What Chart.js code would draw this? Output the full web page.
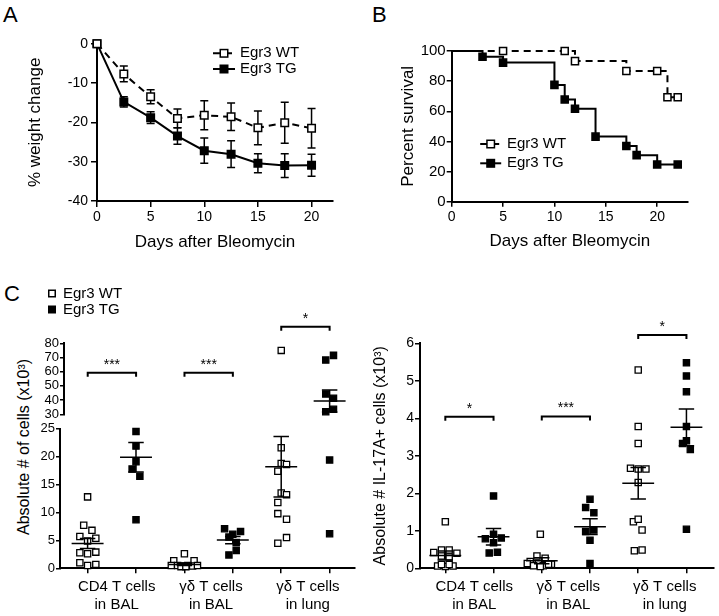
<!DOCTYPE html>
<html>
<head>
<meta charset="utf-8">
<script src="https://cdn.jsdelivr.net/npm/chart.js@4.4.1/dist/chart.umd.min.js"></script>
<style>
  body { margin: 0; background: #fff; width: 719px; height: 616px; position: relative; overflow: hidden;
         font-family: 'Liberation Sans', Arial, sans-serif; color: #000; }
  canvas { position: absolute; }
  .panel { position: absolute; font-size: 22px; }
  .ytitle { position: absolute; font-size: 16px; white-space: nowrap; transform: translate(-50%, -50%) rotate(-90deg); }
</style>
</head>
<body>
<div class="panel" style="left:3px;top:2px">A</div>
<div class="panel" style="left:372px;top:2px">B</div>
<div class="panel" style="left:4px;top:281px">C</div>
<div class="ytitle" style="left:24px;top:447px">Absolute # of cells (x10³)</div>

<canvas id="chartA" width="355" height="260" style="left:0;top:0"></canvas>
<canvas id="chartB" width="359" height="260" style="left:360px;top:0"></canvas>
<canvas id="chartCup" width="360" height="145" style="left:0;top:280px"></canvas>
<canvas id="chartClo" width="360" height="196" style="left:0;top:420px"></canvas>
<canvas id="chartCr" width="359" height="316" style="left:360px;top:300px"></canvas>

<script>
const FONT = "'Liberation Sans', Arial, sans-serif";

// ---- A: weight change ----
const daysA = [0, 2.5, 5, 7.5, 10, 12.5, 15, 17.5, 20];
const wtWeight = [0, -7.7, -13.5, -19, -18.2, -18.6, -21.4, -20.1, -21.5];
const wtWeightSem = [0, 2, 1.8, 2.4, 3.7, 3.5, 4.3, 5.2, 5];
const tgWeight = [0, -14.8, -18.8, -23.5, -27.2, -28.1, -30.4, -31, -30.9];
const tgWeightSem = [0, 1.3, 1.5, 2.1, 3.2, 3.4, 2.4, 3, 2.8];
const xTicksA = [0, 5, 10, 15, 20];
const yTicksA = [-40, -30, -20, -10, 0];

// ---- B: survival ----
const survDaysWt = [0, 5, 11, 12, 17, 20, 21, 22];
const survWt = [100, 100, 100, 93.3, 86.7, 86.7, 69.3, 69.3];
const survDaysTg = [0, 3, 5, 10, 11, 12, 14, 17, 18, 20, 22];
const survTg = [100, 96.2, 92.3, 77.5, 67.8, 61.7, 43.2, 37, 30.9, 24.7, 24.7];
const xTicksB = [0, 5, 10, 15, 20];
const yTicksB = [0, 20, 40, 60, 80, 100];

const groupNames = ['Egr3 WT', 'Egr3 TG'];

// ---- C: cell counts (x10^3); jitter = horizontal spread within a group ----
const catPos = [1, 2, 3, 4, 5, 6];
const labelPosC = [1.6, 3.55, 5.55];
const catLabels = [['CD4 T cells', 'in BAL'], ['γδ T cells', 'in BAL'], ['γδ T cells', 'in lung']];

const cellsCd4Wt = [12.8, 7.7, 6.8, 5.7, 5.4, 4.9, 2.8, 2.6, 2.9, 1.0, 0.5, 0.7];
const jitCd4Wt = [0, -0.08, 0.09, -0.16, 0.17, 0, -0.16, 0, 0.17, -0.16, 0, 0.17];
const cellsCd4Tg = [24.5, 21.9, 19.1, 17.8, 16.5, 8.7];
const jitCd4Tg = [0, 0, 0, -0.08, 0.08, 0];
const cellsGdBalWt = [2.6, 1.35, 1.35, 0.5, 0.5, 0.4, 0.5, 0.4, 0.5, 0.3, 0.3];
const jitGdBalWt = [0, -0.22, 0.2, -0.27, -0.14, -0.03, 0.07, 0.17, 0.27, -0.07, 0.03];
const cellsGdBalTg = [7.1, 6.6, 6.1, 5.6, 4.6, 3.2, 2.4];
const jitGdBalTg = [-0.17, 0.16, 0, -0.08, 0.07, 0.07, -0.08];
const cellsGdLungWt = [75, 21.6, 18.8, 18.6, 17.4, 13.5, 13.2, 11.8, 9.8, 8.8, 5.5, 4.5];
const jitGdLungWt = [0, 0, 0, 0.11, -0.07, 0, 0.11, -0.07, -0.07, 0.11, 0.11, -0.07];
const cellsGdLungTg = [71.5, 68.2, 44.3, 41.3, 33.5, 31.8, 19.4, 6.2];
const jitGdLungTg = [0.08, -0.08, -0.08, 0.08, 0.08, -0.08, 0, 0];
const cellsMean = [4.45, 19.9, 0.7, 5.05, 18.2, 39.4];
const cellsSem = [0.9, 2.65, 0.2, 0.65, 5.4, 7.75];
const cellsBreak = 27;
const yTicksCup = [30, 40, 50, 60, 70, 80];
const yTicksClo = [0, 5, 10, 15, 20, 25];

const il17Cd4Wt = [1.24, 0.49, 0.49, 0.42, 0.40, 0.33, 0.30, 0.06, 0.05, 0.06, 0.10, 0.10];
const jitIl17Cd4Wt = [0, -0.08, 0.08, -0.24, 0.24, -0.08, 0.08, -0.16, 0, 0.16, -0.08, 0.08];
const il17Cd4Tg = [1.93, 0.91, 0.79, 0.81, 0.68, 0.41, 0.43];
const jitIl17Cd4Tg = [0, 0, -0.17, 0.16, 0, -0.09, 0.08];
const il17GdBalWt = [0.91, 0.33, 0.27, 0.18, 0.13, 0.11, 0.13, 0.07, 0.07, 0.11, 0.05];
const jitIl17GdBalWt = [-0.03, -0.1, 0.07, -0.24, -0.07, 0.2, -0.3, -0.17, 0.03, 0.14, -0.03];
const il17GdBalTg = [1.84, 1.62, 1.48, 0.98, 1.02, 0.75, 0.13];
const jitIl17GdBalTg = [0, -0.09, 0.08, -0.09, 0.08, 0, 0];
const il17GdLungWt = [5.29, 3.78, 3.33, 2.67, 2.65, 2.65, 2.29, 1.24, 1.31, 1.02, 0.47, 0.49];
const jitIl17GdLungWt = [0, 0, 0, -0.16, 0, 0.16, 0, -0.1, 0, 0.08, -0.08, 0.08];
const il17GdLungTg = [5.48, 5.13, 4.71, 3.78, 3.40, 3.33, 3.17, 1.04];
const jitIl17GdLungTg = [0, 0, 0, 0, 0, -0.08, 0.08, 0];
const il17Mean = [0.34, 0.84, 0.2, 1.11, 2.27, 3.76];
const il17Sem = [0.12, 0.22, 0.08, 0.21, 0.42, 0.49];
const yTicksCr = [0, 1, 2, 3, 4, 5, 6];

// significance brackets
const sigFrom = [1, 3, 5];
const sigTo = [2, 4, 6];
const sigCellsY = [59.3, 59.3, 91.7];
const sigCellsLabel = ['***', '***', '*'];
const sigIl17Y = [4.04, 4.05, 6.22];
const sigIl17Label = ['*', '***', '*'];

// ---------- plugins ----------
const errorBars = {
  id: 'errorBars',
  beforeDatasetsDraw(chart, args, o) {
    if (!o.sets) return;
    const { ctx, scales: { x, y } } = chart;
    ctx.save();
    ctx.strokeStyle = '#000';
    ctx.lineWidth = 1.5;
    o.sets.forEach(s => {
      s.x.forEach((xv, i) => {
        if (!s.err[i]) return;
        const px = x.getPixelForValue(xv);
        const t = y.getPixelForValue(s.y[i] + s.err[i]);
        const b = y.getPixelForValue(s.y[i] - s.err[i]);
        ctx.beginPath();
        ctx.moveTo(px, t); ctx.lineTo(px, b);
        ctx.moveTo(px - o.cap, t); ctx.lineTo(px + o.cap, t);
        ctx.moveTo(px - o.cap, b); ctx.lineTo(px + o.cap, b);
        ctx.stroke();
      });
    });
    ctx.restore();
  }
};

const meanSem = {
  id: 'meanSem',
  afterDatasetsDraw(chart, args, o) {
    if (!o.means) return;
    const { ctx, scales: { x, y } } = chart;
    ctx.save();
    ctx.strokeStyle = '#000';
    ctx.lineWidth = 1.5;
    o.means.forEach((m, i) => {
      if (m < y.min || m > y.max) return;
      const pos = catPos[i];
      const px = x.getPixelForValue(pos);
      const half = x.getPixelForValue(pos + o.meanHalf) - px;
      const cap = x.getPixelForValue(pos + o.capHalf) - px;
      const pm = y.getPixelForValue(m);
      const t = y.getPixelForValue(m + o.sems[i]);
      const b = y.getPixelForValue(m - o.sems[i]);
      ctx.beginPath();
      ctx.moveTo(px - half, pm); ctx.lineTo(px + half, pm);
      ctx.moveTo(px, t); ctx.lineTo(px, b);
      ctx.moveTo(px - cap, t); ctx.lineTo(px + cap, t);
      ctx.moveTo(px - cap, b); ctx.lineTo(px + cap, b);
      ctx.stroke();
    });
    ctx.restore();
  }
};

const sigBrackets = {
  id: 'sig',
  afterDraw(chart, args, o) {
    if (!o.y) return;
    const { ctx, scales: { x, y } } = chart;
    ctx.save();
    ctx.strokeStyle = '#000';
    ctx.fillStyle = '#000';
    ctx.lineWidth = 2;
    ctx.font = o.size + 'px ' + FONT;
    ctx.textAlign = 'center';
    ctx.textBaseline = 'bottom';
    sigFrom.forEach((f, i) => {
      const x1 = x.getPixelForValue(f), x2 = x.getPixelForValue(sigTo[i]);
      const py = y.getPixelForValue(o.y[i]);
      ctx.beginPath();
      ctx.moveTo(x1, py + o.drop); ctx.lineTo(x1, py); ctx.lineTo(x2, py); ctx.lineTo(x2, py + o.drop);
      ctx.stroke();
      ctx.fillText(o.labels[i], (x1 + x2) / 2, py - 1);
    });
    ctx.restore();
  }
};

const keyBox = {
  id: 'keyBox',
  afterDraw(chart, args, o) {
    if (!o.x) return;
    const ctx = chart.ctx;
    ctx.save();
    ctx.font = o.size + 'px ' + FONT;
    ctx.textBaseline = 'middle';
    ctx.strokeStyle = '#000';
    chart.data.datasets.slice(0, 2).forEach((ds, i) => {
      const y = o.y + i * o.step;
      if (o.lineHalf) {
        ctx.lineWidth = 2;
        ctx.setLineDash(ds.borderDash || []);
        ctx.beginPath(); ctx.moveTo(o.x - o.lineHalf, y); ctx.lineTo(o.x + o.lineHalf, y); ctx.stroke();
        ctx.setLineDash([]);
      }
      ctx.lineWidth = 1.5;
      ctx.fillStyle = ds.pointBackgroundColor;
      ctx.fillRect(o.x - o.box / 2, y - o.box / 2, o.box, o.box);
      ctx.strokeRect(o.x - o.box / 2, y - o.box / 2, o.box, o.box);
      ctx.fillStyle = '#000';
      ctx.fillText(groupNames[i], o.textX, y);
    });
    ctx.restore();
  }
};

Chart.register(errorBars, meanSem, sigBrackets, keyBox);
Chart.defaults.font.family = FONT;
Chart.defaults.color = '#000';
Chart.defaults.animation = false;
Chart.defaults.responsive = false;
Chart.defaults.plugins.legend.display = false;
Chart.defaults.plugins.tooltip.enabled = false;

function axis(o) {
  const a = {
    type: 'linear',
    min: o.min, max: o.max,
    display: true,
    border: { display: true, color: '#000', width: 2 },
    grid: { display: true, drawOnChartArea: false, drawTicks: true, tickLength: o.tick || 5,
            color: o.gridColor || '#000', lineWidth: 1.5 },
    ticks: { color: '#000', font: { size: o.fontSize || 14 }, padding: o.pad, autoSkip: false, maxRotation: 0 },
    afterBuildTicks: s => { s.ticks = o.ticks.map(v => ({ value: v })); },
    afterFit: s => { if (o.w) s.width = o.w; if (o.h) s.height = o.h; },
    title: o.title ? { display: true, text: o.title, color: '#000', font: { size: o.titleSize || 17 }, padding: o.titlePad }
                   : { display: false }
  };
  if (o.callback) a.ticks.callback = o.callback;
  return a;
}

function lineSet(label, xs, ys, filled, dash, radius) {
  return {
    label,
    data: xs.map((d, i) => ({ x: d, y: ys[i] })),
    borderColor: '#000', borderWidth: 2, borderDash: dash,
    pointStyle: 'rect', pointRadius: radius, pointBorderWidth: 1.5,
    pointBackgroundColor: filled ? '#000' : '#fff', pointBorderColor: '#000',
    clip: false
  };
}

function groupPts(vals, jit, pos) {
  return vals.map((v, i) => ({ x: pos + jit[i], y: v }));
}

function dotSet(label, pts, filled) {
  return {
    label, data: pts, showLine: false,
    pointStyle: 'rect', pointRadius: 4.4, pointBorderWidth: 1.3,
    pointBackgroundColor: filled ? '#000' : '#fff', pointBorderColor: '#000',
    clip: false
  };
}

// ---------- A ----------
new Chart(document.getElementById('chartA'), {
  type: 'line',
  data: {
    datasets: [
      lineSet(groupNames[0], daysA, wtWeight, false, [7, 5], 5.3),
      lineSet(groupNames[1], daysA, tgWeight, true, [], 5.3)
    ]
  },
  options: {
    layout: { padding: { top: 43.7, right: 22, left: 0, bottom: 0 } },
    scales: {
      x: axis({ min: 0, max: 22, ticks: xTicksA, h: 59, pad: 2, tick: 6,
                title: 'Days after Bleomycin', titlePad: { bottom: 7 } }),
      y: axis({ min: -40, max: 0, ticks: yTicksA, w: 97, pad: 3, tick: 6,
                title: '% weight change', titlePad: { top: 25.5 } })
    },
    plugins: {
      errorBars: { cap: 4, sets: [
        { x: daysA, y: wtWeight, err: wtWeightSem },
        { x: daysA, y: tgWeight, err: tgWeightSem }
      ] },
      keyBox: { x: 224, y: 53.3, step: 15.7, lineHalf: 11, box: 7.5, textX: 240, size: 15 }
    }
  }
});

// ---------- B ----------
const survWtSet = lineSet(groupNames[0], survDaysWt, survWt, false, [7, 5], 5);
const survTgSet = lineSet(groupNames[1], survDaysTg, survTg, true, [], 5);
[survWtSet, survTgSet].forEach(s => {
  s.stepped = true;
  s.pointRadius = c => (c.dataIndex === 0 ? 0 : 5);
});
new Chart(document.getElementById('chartB'), {
  type: 'line',
  data: { datasets: [survWtSet, survTgSet] },
  options: {
    layout: { padding: { top: 51, right: 31, left: 0, bottom: 0 } },
    scales: {
      x: axis({ min: 0, max: 23, ticks: xTicksB, h: 58.3, pad: 2,
                title: 'Days after Bleomycin', titlePad: { bottom: 8 } }),
      y: axis({ min: 0, max: 100, ticks: yTicksB, w: 91.7, pad: 1, fontSize: 15,
                title: 'Percent survival', titlePad: { top: 38 } })
    },
    plugins: {
      keyBox: { x: 130.7, y: 144, step: 19.3, lineHalf: 10.5, box: 7.5, textX: 147, size: 15 }
    }
  }
});

// ---------- C left (broken axis: upper + lower) ----------
const cellsWtPts = [
  ...groupPts(cellsCd4Wt, jitCd4Wt, catPos[0]),
  ...groupPts(cellsGdBalWt, jitGdBalWt, catPos[2]),
  ...groupPts(cellsGdLungWt, jitGdLungWt, catPos[4])
];
const cellsTgPts = [
  ...groupPts(cellsCd4Tg, jitCd4Tg, catPos[1]),
  ...groupPts(cellsGdBalTg, jitGdBalTg, catPos[3]),
  ...groupPts(cellsGdLungTg, jitGdLungTg, catPos[5])
];

function catAxis(min, max, h) {
  const ticks = catPos.concat(labelPosC).sort((a, b) => a - b);
  return axis({
    min, max, ticks, h, pad: 4.4, fontSize: 15,
    gridColor: c => (c.tick && labelPosC.includes(c.tick.value) ? 'rgba(0,0,0,0)' : '#000'),
    callback: v => { const k = labelPosC.indexOf(v); return k >= 0 ? catLabels[k] : ''; }
  });
}

new Chart(document.getElementById('chartCup'), {
  type: 'scatter',
  data: {
    datasets: [
      dotSet(groupNames[0], cellsWtPts.filter(p => p.y > cellsBreak), false),
      dotSet(groupNames[1], cellsTgPts.filter(p => p.y > cellsBreak), true)
    ]
  },
  options: {
    layout: { padding: { top: 63.3, right: 2, left: 0, bottom: 10.7 } },
    scales: {
      x: { type: 'linear', min: 0.51, max: 6.51, display: false },
      y: axis({ min: 30, max: 80, ticks: yTicksCup, w: 64, pad: 1, tick: 4, fontSize: 13 })
    },
    plugins: {
      meanSem: { means: cellsMean, sems: cellsSem, meanHalf: 0.33, capHalf: 0.16 },
      sig: { y: sigCellsY, labels: sigCellsLabel, size: 14, drop: 4 },
      keyBox: { x: 52, y: 13.5, step: 16, box: 6.5, textX: 63, size: 15 }
    }
  }
});

new Chart(document.getElementById('chartClo'), {
  type: 'scatter',
  data: {
    datasets: [
      dotSet(groupNames[0], cellsWtPts.filter(p => p.y <= cellsBreak), false),
      dotSet(groupNames[1], cellsTgPts.filter(p => p.y <= cellsBreak), true)
    ]
  },
  options: {
    layout: { padding: { top: 6.5, right: 2, left: 0, bottom: 0 } },
    scales: {
      x: catAxis(0.43, 6.51, 47.7),
      y: axis({ min: 0, max: 25, ticks: yTicksClo, w: 60, pad: 1, tick: 4, fontSize: 13 })
    },
    plugins: {
      meanSem: { means: cellsMean, sems: cellsSem, meanHalf: 0.33, capHalf: 0.16 }
    }
  }
});

// ---------- C right ----------
const il17WtPts = [
  ...groupPts(il17Cd4Wt, jitIl17Cd4Wt, catPos[0]),
  ...groupPts(il17GdBalWt, jitIl17GdBalWt, catPos[2]),
  ...groupPts(il17GdLungWt, jitIl17GdLungWt, catPos[4])
];
const il17TgPts = [
  ...groupPts(il17Cd4Tg, jitIl17Cd4Tg, catPos[1]),
  ...groupPts(il17GdBalTg, jitIl17GdBalTg, catPos[3]),
  ...groupPts(il17GdLungTg, jitIl17GdLungTg, catPos[5])
];

new Chart(document.getElementById('chartCr'), {
  type: 'scatter',
  data: {
    datasets: [
      dotSet(groupNames[0], il17WtPts, false),
      dotSet(groupNames[1], il17TgPts, true)
    ]
  },
  options: {
    layout: { padding: { top: 43.3, right: 1, left: 0, bottom: 0 } },
    scales: {
      x: catAxis(0.475, 6.557, 47.7),
      y: axis({ min: 0, max: 6, ticks: yTicksCr, w: 60, pad: 1, tick: 5, fontSize: 14,
                title: 'Absolute # IL-17A+ cells (x10³)', titleSize: 16, titlePad: { top: 10.8 } })
    },
    plugins: {
      meanSem: { means: il17Mean, sems: il17Sem, meanHalf: 0.33, capHalf: 0.16 },
      sig: { y: sigIl17Y, labels: sigIl17Label, size: 14, drop: 4 }
    }
  }
});
</script>
</body>
</html>
